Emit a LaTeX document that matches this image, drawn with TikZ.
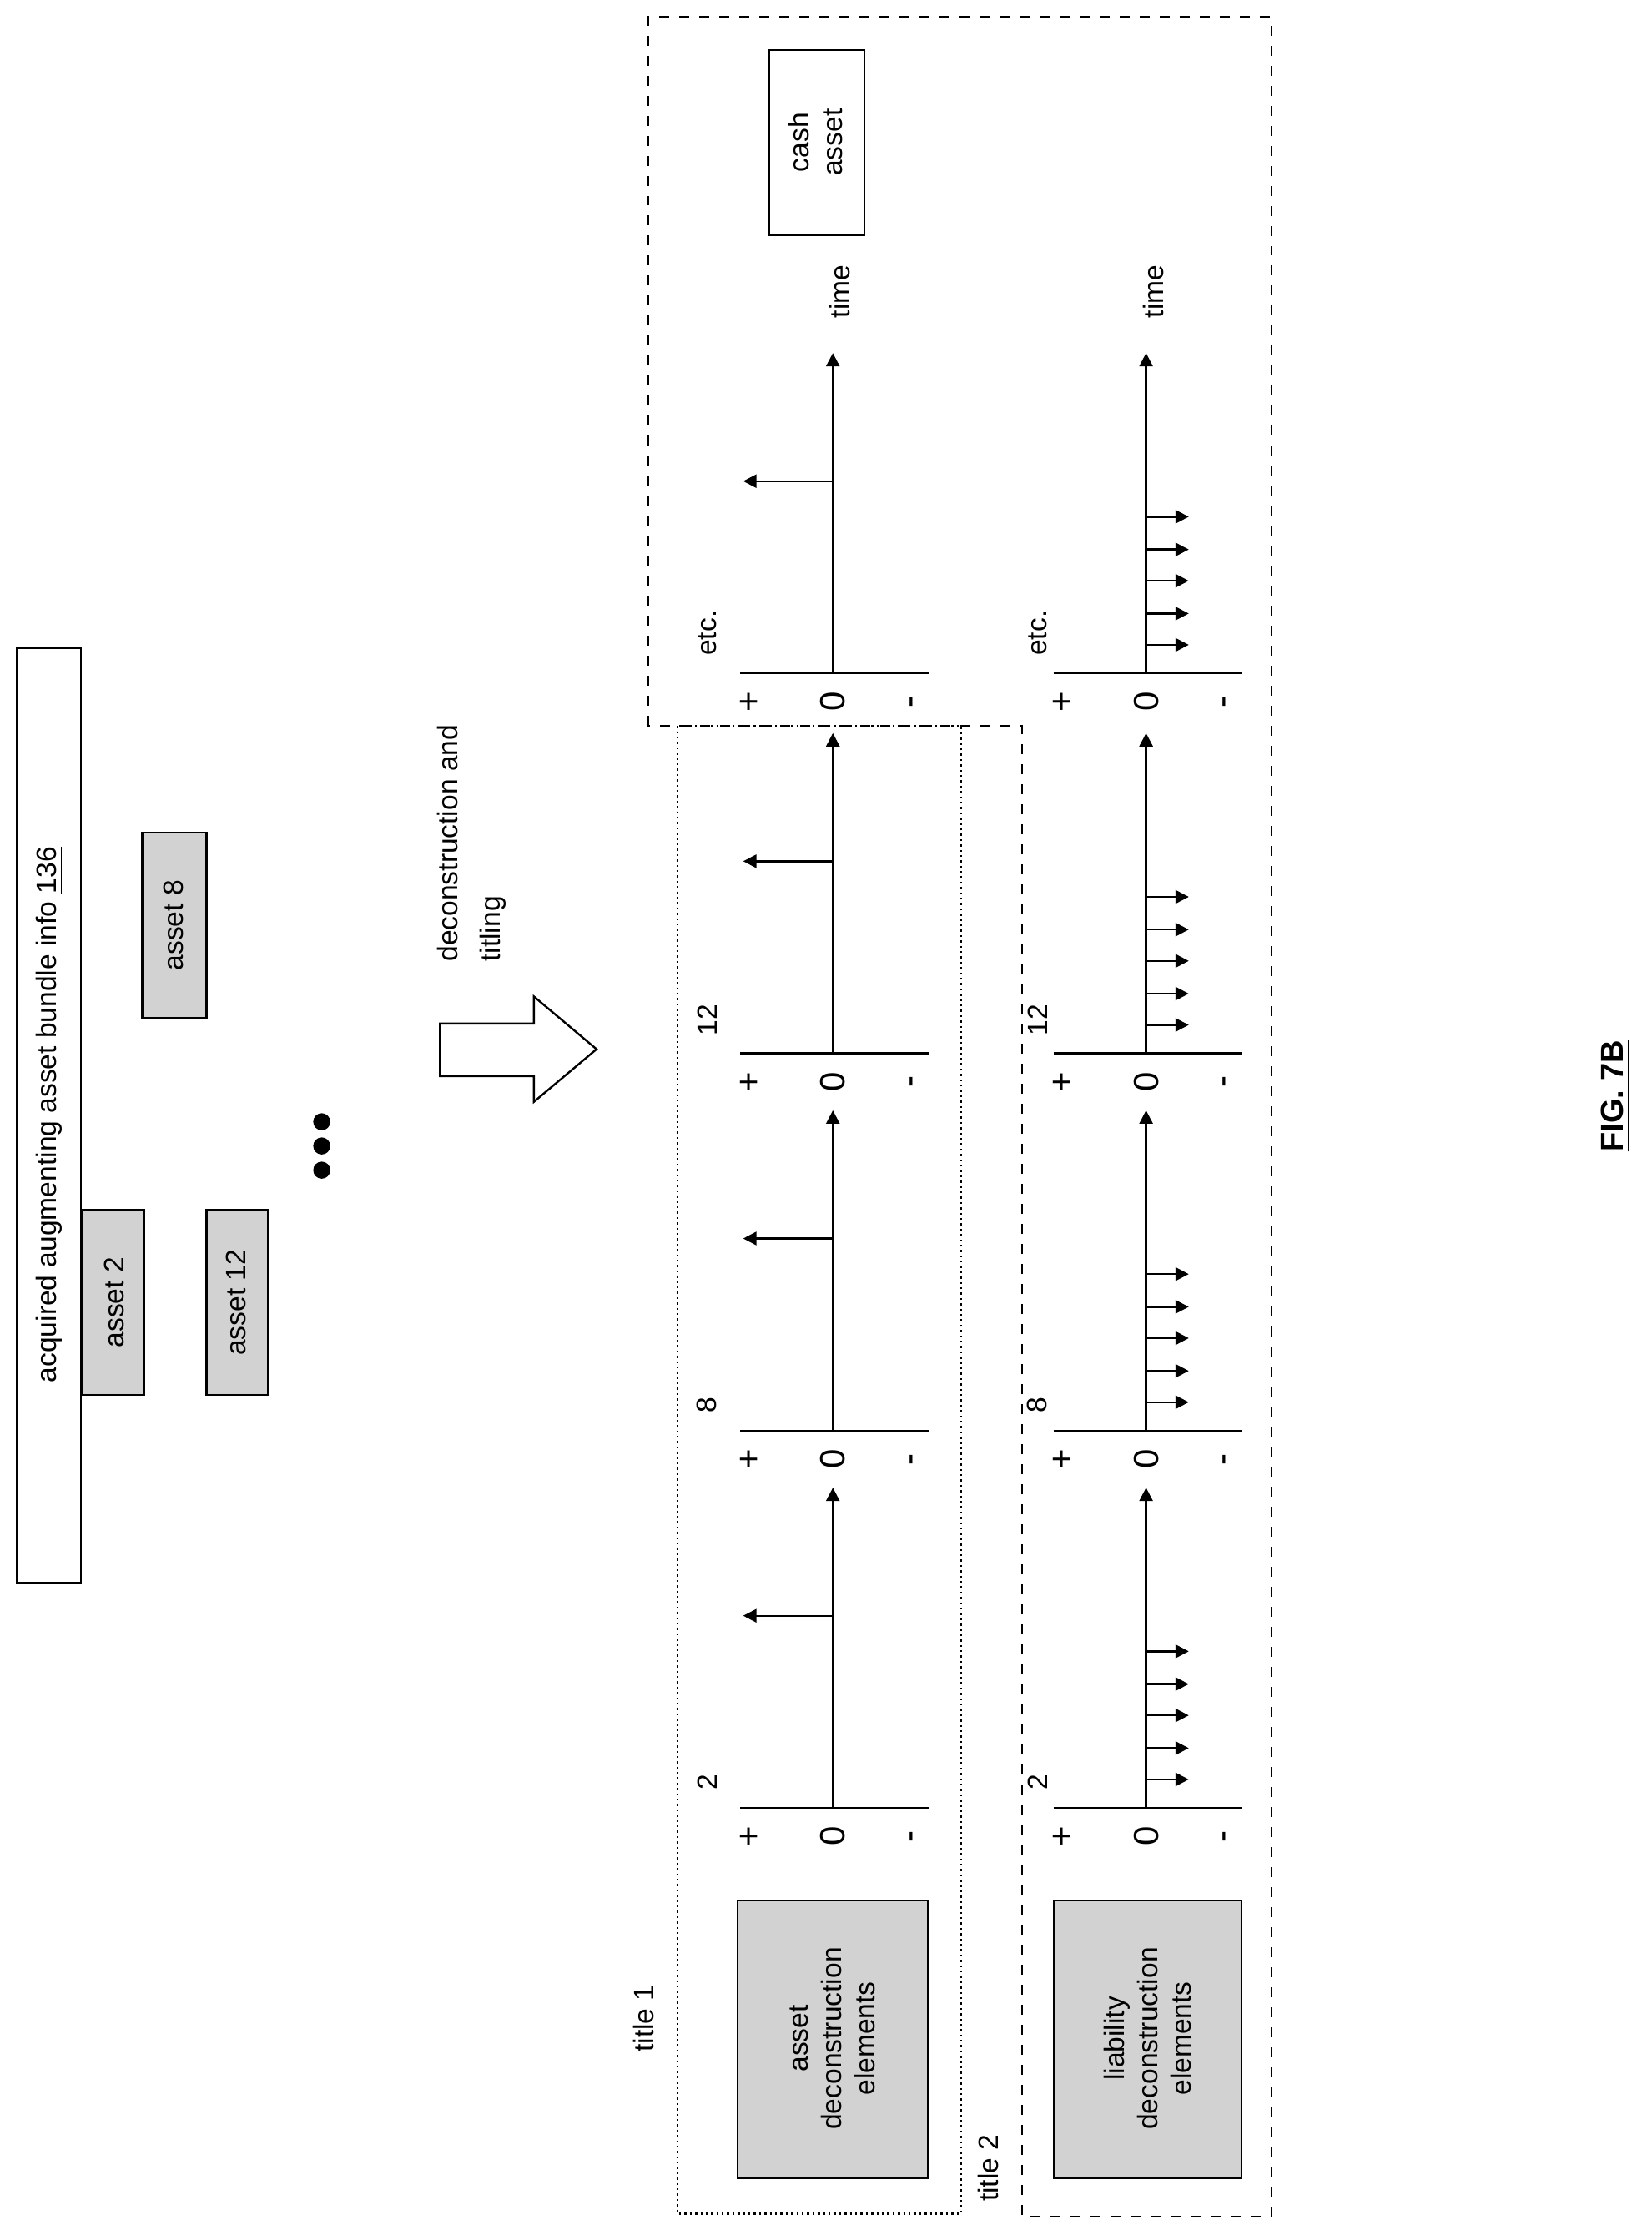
\documentclass[tikz,border=0pt]{standalone}
\usepackage{fontspec}
\setmainfont{Liberation Sans}
\usetikzlibrary{arrows.meta}
\begin{document}
\begin{tikzpicture}[x=0.015cm, y=-0.015cm, line width=0.6pt,
    font=\fontsize{8.4}{10}\selectfont,
    rt/.style={rotate=90},
    big/.style={rotate=90, font=\fontsize{10.5}{12}\selectfont},
    gbox/.style={draw, fill=gray!35},
    tip/.style={-{Triangle[length=4pt, width=4pt]}}]
    \useasboundingbox (0, 0) rectangle (1160, 1563);

    % bundle info
    \draw (12, 455) rectangle (57, 1112);
    \node[rt] (info) at (35, 783) {acquired augmenting asset bundle info \underline{136}};
    \draw[gbox] (58, 850) rectangle (101, 980);
    \node[rt] (a2) at (80, 915) {asset 2};
    \draw[gbox] (145, 850) rectangle (188, 980);
    \node[rt] (a12) at (166, 915) {asset 12};
    \draw[gbox] (100, 585) rectangle (145, 715);
    \node[rt] (a8) at (122, 650) {asset 8};
    \foreach \y in {805, 822, 788}
        \fill (226, \y) circle (6);

    % deconstruction arrow
    \draw (309, 719) -- (375, 719) -- (375, 700) -- (419, 737) -- (375, 774)
        -- (375, 756) -- (309, 756) -- cycle;
    \node[rt, anchor=south west] (dt1) at (330, 684) {deconstruction and};
    \node[rt, anchor=south west] (dt2) at (364, 684) {titling};

    % regions
    \draw[dashed] (455, 510) -- (455, 12) -- (893, 12) -- (893, 1557)
        -- (718, 1557) -- (718, 510) -- cycle;
    \draw[densely dotted] (476, 510) rectangle (675, 1555);
    \node[rt, anchor=south west] (t1) at (468, 1450) {title 1};
    \node[rt, anchor=south west] (t2) at (710, 1555) {title 2};
    \draw[gbox] (518, 1335) rectangle (652, 1530);
    \node[rt, align=center] (ade) at (585, 1432) {asset\\deconstruction\\elements};
    \draw[gbox] (740, 1335) rectangle (872, 1530);
    \node[rt, align=center] (lde) at (806, 1432) {liability\\deconstruction\\elements};
    \draw (540, 35) rectangle (607, 165);
    \node[rt, align=center] (cash) at (573, 100) {cash\\asset};

    % time charts
    \foreach \b/\lab in {1270/2, 1005/8, 740/12, 473/etc.} {
        \draw (520, \b) -- (652, \b);
        \draw[tip] (585, \b) -- (585, \b-225);
        \draw[tip] (585, \b-135) -- (522, \b-135);
        \node[big] at (527, \b+20) {+};
        \node[big] at (585, \b+20) {0};
        \node[big] at (643, \b+20) {-};
        \node[rt, anchor=south west] at (512, \b-4) {\lab};
        \draw (740, \b) -- (872, \b);
        \draw[tip] (805, \b) -- (805, \b-225);
        \foreach \d in {20, 42, 65, 87, 110}
            \draw[tip] (805, \b-\d) -- (835, \b-\d);
        \node[big] at (747, \b+20) {+};
        \node[big] at (805, \b+20) {0};
        \node[big] at (863, \b+20) {-};
        \node[rt, anchor=south west] at (744, \b-4) {\lab};
    }
    \node[rt, anchor=west] (tm1) at (590, 232) {time};
    \node[rt, anchor=west] (tm2) at (810, 232) {time};

    \node[rt, font=\fontsize{9.5}{11}\selectfont\bfseries] (fig) at (1135, 770) {\underline{FIG. 7B}};
\end{tikzpicture}
\end{document}
